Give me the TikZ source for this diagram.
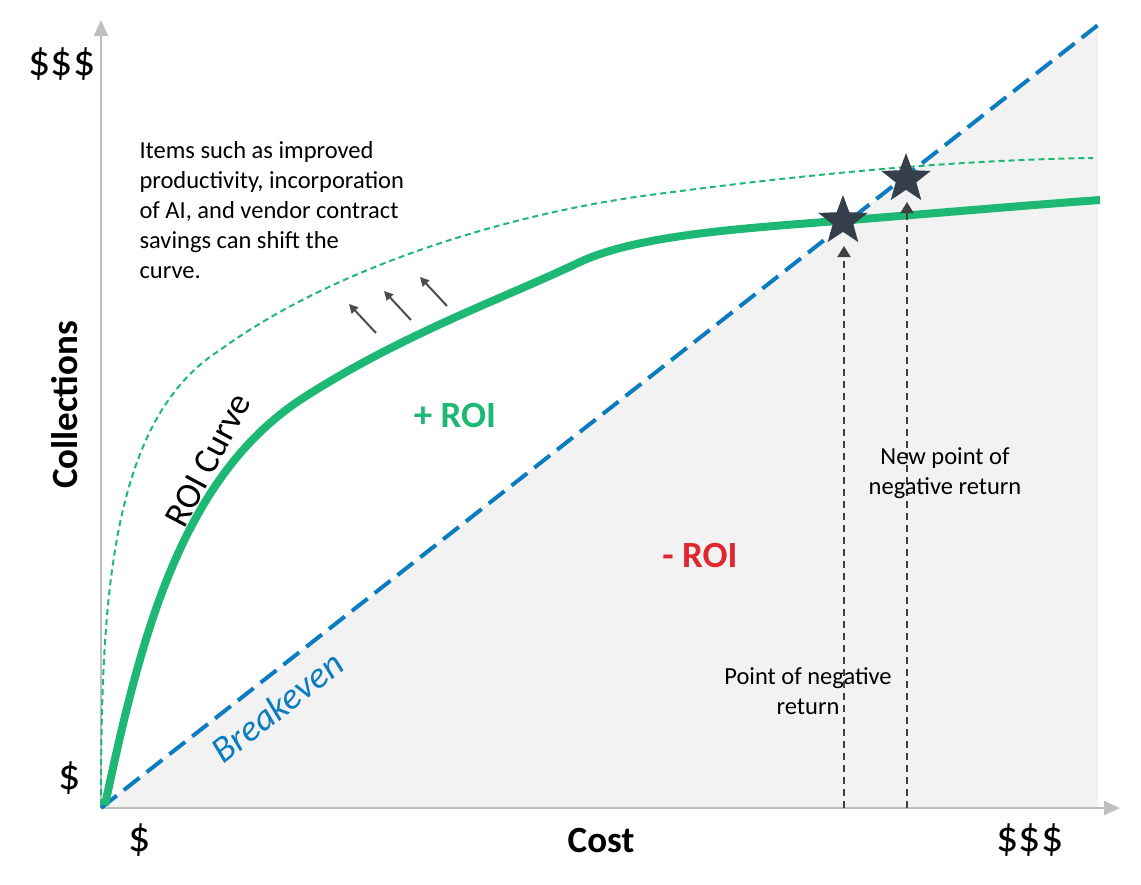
\documentclass[tikz,border=0pt]{standalone}
\usepackage{fontspec}
\setmainfont{Carlito}
\usetikzlibrary{shapes.geometric,arrows.meta}
\definecolor{roigreen}{HTML}{1DB874}
\definecolor{beblue}{HTML}{0C7CC0}
\definecolor{starc}{HTML}{343F4B}
\definecolor{roired}{HTML}{E0262E}
\definecolor{axisgray}{HTML}{BFBFBF}
\tikzset{
  axis/.style={draw=axisgray,line width=2.5pt,-{Triangle[length=16pt,width=14pt]}},
  vdash/.style={draw=black!75,line width=2pt,dash pattern=on 7pt off 5pt,-{Triangle[length=11pt,width=13pt]}},
  small/.style={font=\fontsize{24.5}{30}\selectfont,align=center},
  dollar/.style={font=\fontsize{44}{48}\selectfont},
  lab/.style={font=\fontsize{37}{40}\selectfont},
  starn/.style={star,star points=5,star point ratio=2.4,fill=starc,minimum size=52pt,inner sep=0pt},
  sarrow/.style={draw=black!70,line width=2pt,-{Triangle[length=9pt,width=9pt]}}
}
\begin{document}
\begin{tikzpicture}[x=1pt,y=-1pt]
\useasboundingbox (0,0) rectangle (1141,884);
\coordinate (O) at (101,808);
\coordinate (E) at (1098,25);
\fill[black!5] (O) -- (E) -- (1098,808) -- cycle;
\draw[axis] (O) -- (101,20);
\draw[axis] (O) -- (1120,808);
% dashed shifted curve
\draw[roigreen,line width=2pt,dash pattern=on 6pt off 4pt] (101,805) .. controls (101,600) and (110,420) .. (220,350) .. controls (330,270) and (500,215) .. (650,195) .. controls (800,175) and (950,160) .. (1093,158);
% breakeven
\draw[beblue,line width=4pt,dash pattern=on 20pt off 9pt] (O) -- (E);
% ROI curve
\draw[roigreen,line width=8pt] (105,805) .. controls (140,640) and (180,480) .. (300,400) .. controls (400,335) and (500,300) .. (580,262) .. controls (640,234) and (750,228) .. (850,220) .. controls (950,212) and (1030,205) .. (1100,200);
% vertical lines
\coordinate (b1) at (844,808);
\coordinate (b2) at (907,808);
\node[starn] (s1) at (843,221) {};
\node[starn] (s2) at (906,179) {};
\draw[vdash] (b1) -- (844,246);
\draw[vdash] (b2) -- (907,202);
% small arrows
\draw[sarrow] (376,333) -- (349,304);
\draw[sarrow] (411,320) -- (384,291);
\draw[sarrow] (447,306) -- (420,277);
% texts
\node[dollar] (t1) at (62,64) {\$\$\$};
\node[dollar] (t2) at (70,778) {\$};
\node[dollar] (t3) at (140,840) {\$};
\node[dollar] (t4) at (1030,840) {\$\$\$};
\node[lab,font=\fontsize{37}{40}\selectfont\bfseries] (cost) at (601,840) {Cost};
\node[lab,font=\fontsize{37}{40}\selectfont\bfseries,rotate=90] (coll) at (65,405) {Collections};
\node[font=\fontsize{24.5}{30}\selectfont,align=left,anchor=north west] (txt) at (136,138) {Items such as improved\\productivity, incorporation\\of AI, and vendor contract\\savings can shift the\\curve.};
\node[font=\fontsize{36}{40}\selectfont,rotate=62] (roic) at (208,460) {ROI Curve};
\node[font=\fontsize{37}{40}\selectfont\itshape,text=beblue,rotate=38] (be) at (277,707) {Breakeven};
\node[font=\fontsize{37}{40}\selectfont\bfseries,text=roigreen] (pr) at (455,415) {+ ROI};
\node[font=\fontsize{37}{40}\selectfont\bfseries,text=roired] (mr) at (700,555) {- ROI};
\node[small] (p1) at (808,691) {Point of negative\\return};
\node[small] (p2) at (945,473) {New point of\\negative return};
\end{tikzpicture}
\end{document}
